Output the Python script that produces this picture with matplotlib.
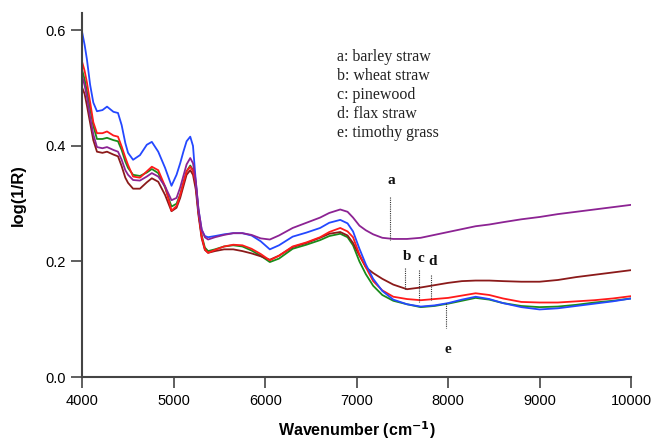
import matplotlib
matplotlib.use("Agg")
import matplotlib.pyplot as plt

wavenumber = [4000, 4025, 4050, 4085, 4120, 4160, 4220, 4270, 4340, 4390, 4430, 4470, 4500, 4555,
              4630, 4705, 4760, 4830, 4905, 4975, 5030, 5070, 5105, 5140, 5180, 5210, 5240, 5270,
              5305, 5340, 5375, 5450, 5550, 5650, 5750, 5850, 5950, 6050, 6150, 6300, 6450, 6600,
              6700, 6820, 6900, 6960, 7030, 7100, 7180, 7280, 7400, 7550, 7700, 7850, 8000, 8150,
              8300, 8450, 8600, 8800, 9000, 9200, 9400, 9600, 9800, 10000]

blue = [0.595, 0.575, 0.55, 0.506, 0.475, 0.46, 0.462, 0.468, 0.459, 0.457, 0.436, 0.405, 0.388, 0.376,
        0.384, 0.402, 0.407, 0.39, 0.362, 0.331, 0.35, 0.37, 0.39, 0.408, 0.416, 0.40, 0.34, 0.29,
        0.255, 0.244, 0.242, 0.244, 0.247, 0.249, 0.249, 0.245, 0.235, 0.221, 0.228, 0.243, 0.25, 0.258,
        0.267, 0.272, 0.266, 0.252, 0.222, 0.195, 0.17, 0.149, 0.134, 0.126, 0.122, 0.124, 0.128, 0.134,
        0.139, 0.135, 0.128, 0.121, 0.117, 0.119, 0.123, 0.127, 0.131, 0.136]

purple = [0.52, 0.505, 0.485, 0.45, 0.42, 0.398, 0.396, 0.398, 0.393, 0.39, 0.376, 0.358, 0.35, 0.341,
          0.34, 0.347, 0.353, 0.347, 0.33, 0.306, 0.31, 0.328, 0.348, 0.368, 0.379, 0.37, 0.34, 0.29,
          0.255, 0.242, 0.238, 0.242, 0.246, 0.249, 0.249, 0.246, 0.24, 0.238, 0.245, 0.258, 0.267, 0.276,
          0.284, 0.290, 0.286, 0.276, 0.262, 0.254, 0.247, 0.241, 0.239, 0.239, 0.241, 0.246, 0.251, 0.256,
          0.261, 0.264, 0.268, 0.273, 0.277, 0.282, 0.286, 0.29, 0.294, 0.298]

red = [0.544, 0.53, 0.51, 0.476, 0.441, 0.422, 0.422, 0.425, 0.418, 0.416, 0.399, 0.38, 0.367, 0.347,
       0.345, 0.356, 0.364, 0.358, 0.33, 0.288, 0.296, 0.315, 0.336, 0.356, 0.364, 0.357, 0.335, 0.285,
       0.243, 0.221, 0.215, 0.22, 0.226, 0.229, 0.228, 0.222, 0.213, 0.202, 0.21, 0.226, 0.233, 0.242,
       0.251, 0.258, 0.252, 0.242, 0.212, 0.19, 0.166, 0.150, 0.139, 0.135, 0.133, 0.135, 0.137, 0.141,
       0.145, 0.142, 0.136, 0.130, 0.129, 0.129, 0.131, 0.133, 0.136, 0.140]

green = [0.53, 0.515, 0.495, 0.465, 0.435, 0.412, 0.412, 0.414, 0.41, 0.408, 0.393, 0.373, 0.362, 0.35,
         0.348, 0.354, 0.36, 0.353, 0.328, 0.295, 0.3, 0.316, 0.336, 0.356, 0.366, 0.358, 0.335, 0.285,
         0.245, 0.224, 0.218, 0.221, 0.226, 0.228, 0.226, 0.219, 0.21, 0.199, 0.205, 0.222, 0.229, 0.237,
         0.244, 0.248, 0.242, 0.228, 0.2, 0.178, 0.158, 0.142, 0.132, 0.126, 0.121, 0.123, 0.127, 0.132,
         0.137, 0.134, 0.128, 0.123, 0.121, 0.122, 0.125, 0.129, 0.132, 0.136]

brown = [0.50, 0.49, 0.47, 0.44, 0.41, 0.39, 0.388, 0.39, 0.385, 0.382, 0.365, 0.345, 0.336, 0.326,
         0.326, 0.337, 0.344, 0.338, 0.315, 0.287, 0.293, 0.31, 0.33, 0.35, 0.358, 0.35, 0.325, 0.28,
         0.24, 0.22, 0.215, 0.218, 0.221, 0.221, 0.218, 0.214, 0.209, 0.203, 0.21, 0.225, 0.232, 0.241,
         0.248, 0.251, 0.245, 0.232, 0.21, 0.19, 0.18, 0.17, 0.16, 0.152, 0.155, 0.159, 0.163, 0.166,
         0.167, 0.167, 0.166, 0.165, 0.165, 0.168, 0.173, 0.177, 0.181, 0.185]

legend_lines = ["a: barley straw", "b: wheat straw", "c: pinewood", "d: flax straw", "e: timothy grass"]

# annotation markers: label, x, line y0, line y1, label y
marker_labels = ["a", "b", "c", "d", "e"]
marker_x = [7360, 7530, 7680, 7815, 7975]
marker_y0 = [0.312, 0.189, 0.185, 0.177, 0.128]
marker_y1 = [0.237, 0.151, 0.130, 0.133, 0.085]
marker_label_y = [0.340, 0.208, 0.205, 0.200, 0.048]

xticks = [4000, 5000, 6000, 7000, 8000, 9000, 10000]
yticks = [0.0, 0.2, 0.4, 0.6]

fig = plt.figure(figsize=(6.56, 4.41), dpi=100)
ax = fig.add_axes([0.1255, 0.145, 0.8365, 0.8255])

series = [(green, "#1a8c1a"), (brown, "#8b1a1a"), (red, "#ff1a1a"), (blue, "#2448ff"), (purple, "#8c2393")]
for vals, col in series:
    ax.plot(wavenumber, vals, color=col, lw=1.3)

for lab, mx, y0, y1, ly in zip(marker_labels, marker_x, marker_y0, marker_y1, marker_label_y):
    ax.plot([mx, mx], [y0, y1], color="#333333", lw=0.8, ls=(0, (1, 1)))
    ax.text(mx + 20, ly, lab, ha="center", va="center", family="Liberation Serif",
            fontweight="bold", fontsize=11, color="#111111")

ax.text(6790, 0.568, "\n".join(legend_lines), ha="left", va="top", family="Liberation Serif",
        fontsize=11.5, color="#222222", linespacing=1.25)

ax.set_xlim(4000, 10000)
ax.set_ylim(0, 0.63)
ax.set_xticks(xticks)
ax.set_yticks(yticks)
ax.set_xticklabels([str(t) for t in xticks], family="Liberation Sans", fontsize=10.5)
ax.set_yticklabels([f"{t:.1f}" for t in yticks], family="Liberation Sans", fontsize=10.5)
ax.tick_params(direction="out", length=8, width=1.2, color="#444444", pad=4)
for s in ["top", "right"]:
    ax.spines[s].set_visible(False)
for s in ["left", "bottom"]:
    ax.spines[s].set_color("#444444")
    ax.spines[s].set_linewidth(1.5)

ax.set_xlabel("Wavenumber (cm$^{\\mathbf{-1}}$)", family="Liberation Sans", fontweight="bold", fontsize=11.5, labelpad=8)
ax.set_ylabel("log(1/R)", family="Liberation Sans", fontweight="bold", fontsize=12, labelpad=14)

fig.savefig("out.png", dpi=100)
